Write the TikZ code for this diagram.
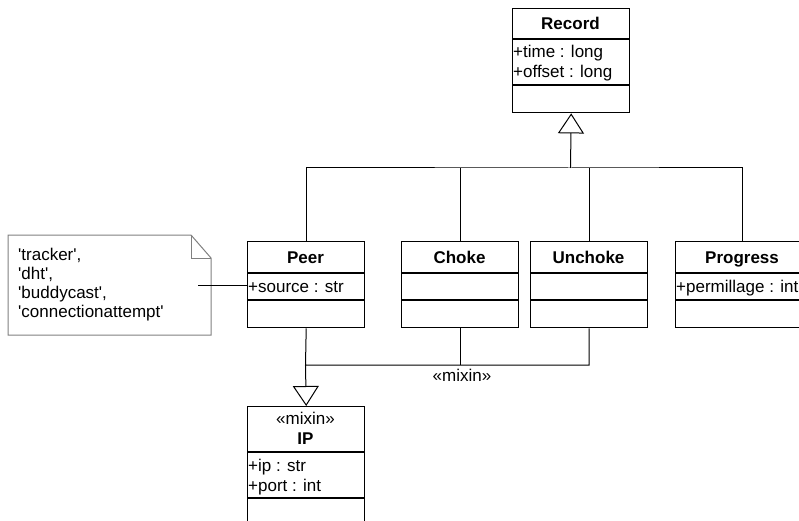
\documentclass[tikz,border=0pt]{standalone}
\usepackage{fontspec}
\setmainfont{Liberation Sans}
\usetikzlibrary{arrows.meta}
\begin{document}
\begin{tikzpicture}[x=1pt,y=-1pt,
  classbox/.style={draw=black,line width=1.4pt,fill=white,inner sep=0pt,
    anchor=north west,minimum width=117pt},
  sepline/.style={line width=1.4pt},
  classtitle/.style={font=\fontsize{17}{20}\selectfont\bfseries,inner sep=0pt,anchor=base},
  stereo/.style={font=\fontsize{17}{20}\selectfont,inner sep=0pt,anchor=base},
  attr/.style={font=\fontsize{17}{20}\selectfont,inner sep=0pt,anchor=base west},
  link/.style={line width=1pt},
  inherit/.style={link,-{Triangle[open,length=20pt,width=26pt,line width=1pt]}},
  noteshape/.style={draw=black!50,line width=1pt,fill=white},
  notetext/.style={font=\fontsize{17}{19}\selectfont,align=left,inner sep=0pt,anchor=west}
]
\useasboundingbox (0,0) rectangle (799,521);
\clip (0,0) rectangle (799,521);

% class Record
\node[classbox,minimum height=104pt] (record) at (512,8) {};
\draw[sepline] (512,39) -- (629,39);
\draw[sepline] (512,85) -- (629,85);
\node[classtitle] (recordname) at (570.5,29.5) {Record};
\node[attr] (recordtime) at (513,58) {+time : long};
\node[attr] (recordoffset) at (513,78) {+offset : long};

% class Peer
\node[classbox,minimum height=86pt] (peer) at (247,241) {};
\draw[sepline] (247,273) -- (364,273);
\draw[sepline] (247,300) -- (364,300);
\node[classtitle] (peername) at (305.5,263) {Peer};
\node[attr] (peersource) at (248,292) {+source : str};

% class Choke
\node[classbox,minimum height=86pt] (choke) at (401,241) {};
\draw[sepline] (401,273) -- (518,273);
\draw[sepline] (401,300) -- (518,300);
\node[classtitle] (chokename) at (459.5,263) {Choke};

% class Unchoke
\node[classbox,minimum height=86pt] (unchoke) at (530,241) {};
\draw[sepline] (530,273) -- (647,273);
\draw[sepline] (530,300) -- (647,300);
\node[classtitle] (unchokename) at (588.5,263) {Unchoke};

% class Progress
\node[classbox,minimum width=134pt,minimum height=86pt] (progress) at (675,241) {};
\draw[sepline] (675,273) -- (809,273);
\draw[sepline] (675,300) -- (809,300);
\node[classtitle] (progressname) at (742,263) {Progress};
\node[attr] (progressperm) at (676,292) {+permillage : int};

% mixin class IP
\node[classbox,minimum height=122pt] (ip) at (247,406) {};
\draw[sepline] (247,452) -- (364,452);
\draw[sepline] (247,498) -- (364,498);
\node[stereo] (ipstereo) at (305.5,424) {«mixin»};
\node[classtitle] (ipname) at (305.5,444) {IP};
\node[attr] (ipaddr) at (248,471) {+ip : str};
\node[attr] (ipport) at (248,491) {+port : int};

% generalisation towards Record
\coordinate (bus) at (570.5,168);
\draw[link] (peer.north) |- (bus) -| (progress.north);
\draw[link] (choke.north) -- (choke.north |- bus);
\draw[link] (unchoke.north) -- (unchoke.north |- bus);
\draw[inherit] (bus) -- (record.south);

% mixin generalisation towards IP
\coordinate (mixbus) at (305.5,365);
\draw[link] (peer.south) -- (mixbus) -| (unchoke.south);
\draw[link] (choke.south) -- (choke.south |- mixbus);
\draw[inherit] (mixbus) -- (ip.north);
\node[stereo] (mixlabel) at (462,381) {«mixin»};

% note listing the possible sources
\draw[noteshape] (8,235) -- (191,235) -- (211,258) -- (211,335) -- (8,335) -- cycle;
\draw[noteshape,fill=none] (191,235) -- (191,258) -- (211,258);
\node[notetext] (note) at (18,285)
  {\textquotesingle tracker\textquotesingle,\\
   \textquotesingle dht\textquotesingle,\\
   \textquotesingle buddycast\textquotesingle,\\
   \textquotesingle connectionattempt\textquotesingle};
\coordinate (notepin) at (198,285);
\draw[link] (notepin) -- (peer.west |- notepin);
\end{tikzpicture}
\end{document}
